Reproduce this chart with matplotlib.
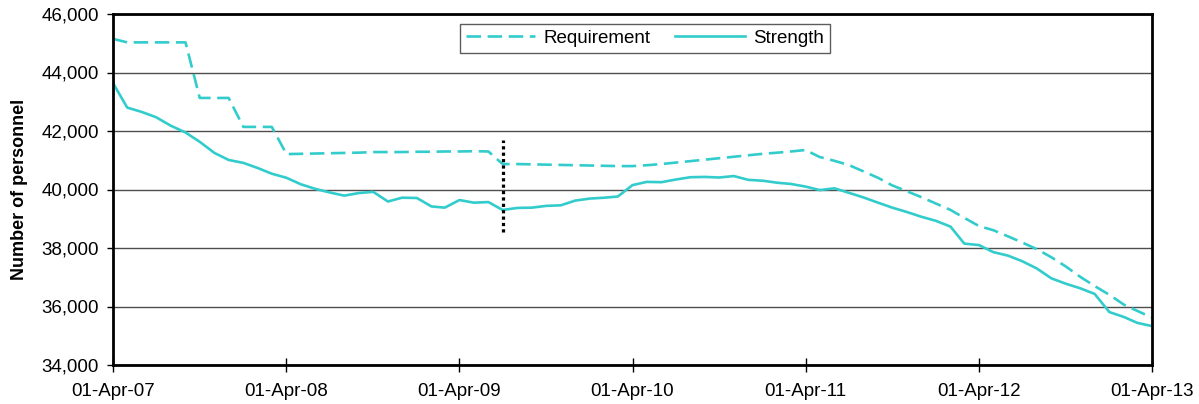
import numpy as np
import pandas as pd
import matplotlib
matplotlib.use("Agg")
import matplotlib.pyplot as plt
import matplotlib.dates as mdates

plt.rcParams['font.family'] = ['Liberation Sans', 'DejaVu Sans']

# -------------------------------
# Data (monthly, Apr-07 .. Apr-13)
# -------------------------------
months = pd.date_range("2007-04-01", "2013-04-01", freq="MS")

requirement = [
    45150, 45030, 45030, 45030, 45030, 45030, 43130, 43130, 43130, 42140,
    42140, 42140, 41210, 41220, 41230, 41240, 41250, 41260, 41280, 41280,
    41280, 41290, 41290, 41300, 41300, 41310, 41300, 40870, 40870, 40860,
    40850, 40840, 40830, 40820, 40810, 40800, 40800, 40830, 40870, 40920,
    40970, 41020, 41070, 41120, 41170, 41220, 41260, 41300, 41350, 41110,
    40980, 40840, 40620, 40400, 40140, 39940, 39740, 39520, 39300, 39030,
    38750, 38610, 38400, 38190, 37960, 37680, 37370, 37010, 36700, 36400,
    36060, 35850, 35620,
]

strength = [
    43640, 42800, 42650, 42470, 42180, 41950, 41630, 41250, 41010, 40910,
    40730, 40540, 40400, 40180, 40020, 39900, 39790, 39880, 39920, 39590,
    39720, 39710, 39420, 39380, 39640, 39550, 39570, 39300, 39370, 39380,
    39440, 39460, 39620, 39690, 39720, 39760, 40150, 40260, 40250, 40340,
    40420, 40430, 40410, 40460, 40330, 40300, 40230, 40190, 40100, 39980,
    40040, 39890, 39730, 39550, 39380, 39230, 39070, 38930, 38730, 38150,
    38100, 37860, 37740, 37550, 37300, 36960, 36780, 36620, 36430, 35810,
    35640, 35440, 35330,
]

# vertical dotted marker
marker_date = pd.Timestamp("2009-07-01")
marker_range = [38550, 41700]

tick_dates = pd.date_range("2007-04-01", "2013-04-01", freq="12MS")
y_ticks = np.arange(34000, 46001, 2000)

teal = "#33CCCC"

# -------------------------------
# Plot
# -------------------------------
fig = plt.figure(figsize=(11.99, 4.04), dpi=100)
ax = fig.add_axes([113 / 1199, 1 - 365 / 404, (1152 - 113) / 1199, (365 - 14) / 404])

ax.plot(months, requirement, color=teal, lw=1.9, dashes=(5.5, 2.5), label="Requirement")
ax.plot(months, strength, color=teal, lw=1.9, label="Strength")
ax.plot([marker_date, marker_date], marker_range, color="black", lw=2.3,
        linestyle=(0, (1, 1)))

ax.set_xlim(months[0], months[-1])
ax.set_ylim(34000, 46000)
ax.set_yticks(y_ticks)
ax.yaxis.set_major_formatter(matplotlib.ticker.FuncFormatter(lambda v, p: f"{int(v):,}"))
ax.set_xticks(tick_dates)
ax.xaxis.set_major_formatter(mdates.DateFormatter("%d-%b-%y"))

ax.grid(axis="y", color="0.3", lw=1)
ax.set_axisbelow(True)
for s in ax.spines.values():
    s.set_linewidth(2)
    s.set_color("black")

ax.tick_params(axis="y", direction="out", length=4, width=1, labelsize=13.5, pad=6)
ax.tick_params(axis="x", direction="inout", length=10, width=1, labelsize=13.5, pad=8)

ax.set_ylabel("Number of personnel", fontsize=13, fontweight="bold", labelpad=10)

leg = ax.legend(loc="upper center", bbox_to_anchor=(0.512, 0.971), ncol=2,
                fontsize=13.5, frameon=True, fancybox=False, handlelength=3.7,
                borderpad=0.3, columnspacing=1.3, handletextpad=0.45,
                borderaxespad=0)
leg.get_frame().set_edgecolor("0.2")
leg.get_frame().set_linewidth(1)

fig.savefig("out.png", dpi=100)
